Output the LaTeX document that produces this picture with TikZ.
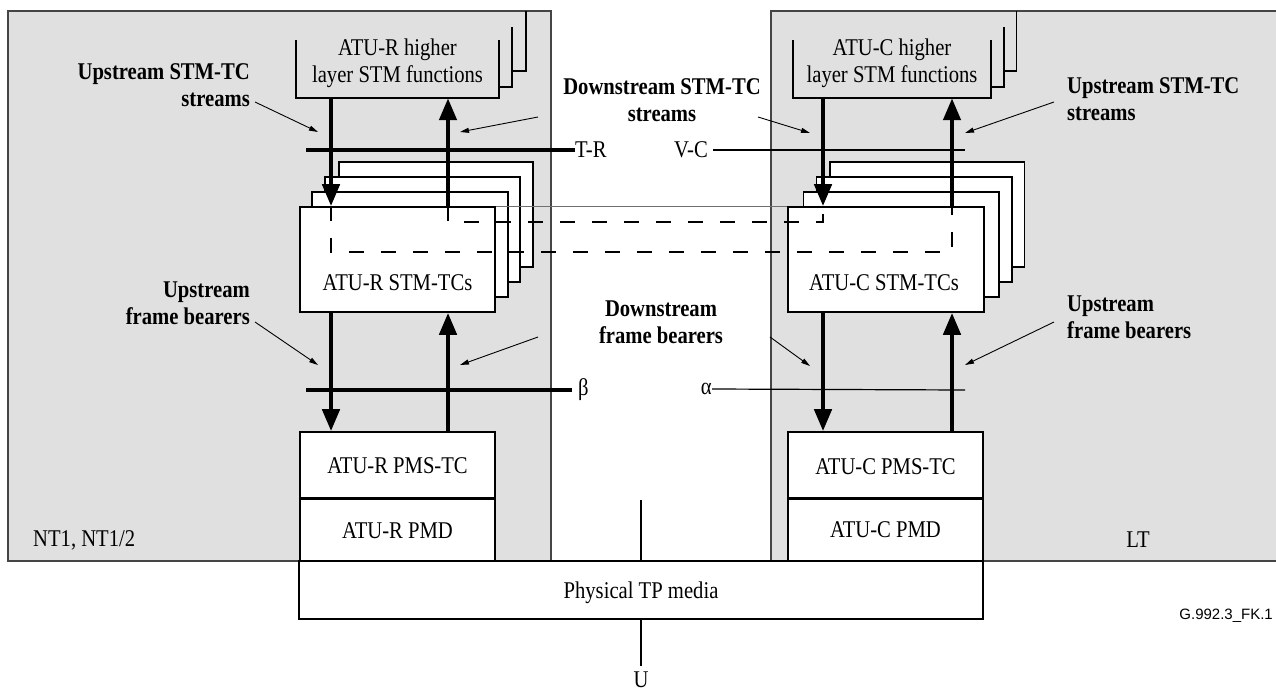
\documentclass[tikz,border=0pt]{standalone}
\usepackage{fontspec}
\setmainfont{Liberation Serif}[FakeStretch=0.86]
\newfontfamily\arialfont{Liberation Sans}
\usetikzlibrary{arrows.meta}
\definecolor{boxgray}{HTML}{E0E0E0}
\definecolor{edgegray}{HTML}{454545}
\definecolor{midgray}{HTML}{707070}
\tikzset{
  graybox/.style={fill=boxgray, draw=edgegray, line width=1.5pt},
  wbox/.style={draw=black, fill=white, line width=1.6pt, inner sep=0pt},
  hlbox/.style={draw=black, line width=2pt},
  bigarrow/.style={line width=4.5pt, -{Triangle[length=22pt,width=17pt]}},
  smallarrow/.style={line width=0.9pt, -{Triangle[length=9pt,width=5pt]}},
  thickline/.style={line width=4pt},
  thinline/.style={line width=1.2pt},
  dashline/.style={line width=1.2pt, dash pattern=on 15pt off 17pt},
  lbl/.style={font=\bfseries\fontsize{24}{27}\selectfont, inner sep=0pt},
  txt/.style={font=\fontsize{24}{27}\selectfont, inner sep=0pt},
}
\begin{document}
\begin{tikzpicture}[x=1pt,y=-1pt]
\useasboundingbox (0,0) rectangle (1276,693);
% outer gray equipment boxes
\node[graybox, minimum width=543pt, minimum height=550pt, inner sep=0pt] (nt) at (279.5,286) {};
\node[graybox, minimum width=520pt, minimum height=550pt, inner sep=0pt] (lt) at (1031,286) {};
\node[txt, anchor=west] (ntlbl) at (33,540) {NT1, NT1/2};
\node[txt] (ltlbl) at (1138,540) {LT};

% higher layer boxes
\node[minimum width=203pt, minimum height=58pt, inner sep=0pt] (hlR) at (397.5,69) {};
\draw[hlbox] (hlR.north west) -- (hlR.south west) -- (hlR.south east) -- (hlR.north east);
\draw[line width=1.2pt] (499,87) -- (512,87) -- (512,27);
\draw[line width=1.2pt] (512,71) -- (526,71) -- (526,11);
\node[txt, align=center] (hlRt) at (397.5,63.5) {ATU-R higher\\layer STM functions};

\node[minimum width=198pt, minimum height=58pt, inner sep=0pt] (hlC) at (892,69) {};
\draw[hlbox] (hlC.north west) -- (hlC.south west) -- (hlC.south east) -- (hlC.north east);
\draw[line width=1.2pt] (991,87) -- (1004,87) -- (1004,27);
\draw[line width=1.2pt] (1004,71) -- (1016.5,71) -- (1016.5,11);
\node[txt, align=center] (hlCt) at (892,63.5) {ATU-C higher\\layer STM functions};

% STM-TC stacks (left)
\draw[wbox] (339,162) rectangle (533,267);
\draw[wbox] (325,177) rectangle (520,282);
\draw[wbox] (312,192) rectangle (508,297);
\node[wbox, minimum width=195pt, minimum height=105pt] (stmR) at (397.5,259.5) {};
\node[txt] (stmRt) at (397.5,283) {ATU-R STM-TCs};
% STM-TC stacks (right)
\draw[wbox] (830,162) rectangle (1024.5,267);
\draw[wbox] (816.5,177) rectangle (1012,282);
\draw[wbox] (803.5,192) rectangle (999,297);
\node[wbox, minimum width=196pt, minimum height=105pt] (stmC) at (886,259.5) {};
\node[txt] (stmCt) at (884,283) {ATU-C STM-TCs};

% thin line joining the front boxes
\draw[midgray, line width=1pt] (stmR.north east) -- (stmC.north west);

% arrow x positions
\coordinate (xa) at (331,0);
\coordinate (xb) at (448,0);
\coordinate (xc) at (823,0);
\coordinate (xd) at (952,0);

% dashed cross connections
\draw[dashline] (stmR.north -| xa) -- (331,252) -- (952,252) -- (stmC.north -| xd);
\draw[dashline] (stmR.north -| xb) -- (448,222) -- (823,222) -- (stmC.north -| xc);

% PMS-TC / PMD boxes
\node[wbox, minimum width=195pt, minimum height=66pt] (pmsR) at (397.5,465) {};
\node[wbox, minimum width=195pt, minimum height=63pt, anchor=north] (pmdR) at (pmsR.south) {};
\node[txt] (pmsRt) at (397.5,466) {ATU-R PMS-TC};
\node[txt] (pmdRt) at (397.5,531) {ATU-R PMD};
\node[wbox, minimum width=195pt, minimum height=66pt] (pmsC) at (885.5,465) {};
\node[wbox, minimum width=195pt, minimum height=63pt, anchor=north] (pmdC) at (pmsC.south) {};
\node[txt] (pmsCt) at (885.5,467) {ATU-C PMS-TC};
\node[txt] (pmdCt) at (885.5,530) {ATU-C PMD};

% physical media
\node[wbox, minimum width=684pt, minimum height=58pt] (phy) at (641,590) {};
\node[txt] (phyt) at (641,593) {Physical TP media};

% big arrows
\draw[bigarrow] (hlR.south -| xa) -- (stmR.north -| xa);
\draw[bigarrow] (stmR.north -| xb) -- (hlR.south -| xb);
\draw[bigarrow] (hlC.south -| xc) -- (stmC.north -| xc);
\draw[bigarrow] (stmC.north -| xd) -- (hlC.south -| xd);
\draw[bigarrow] (stmR.south -| xa) -- (pmsR.north -| xa);
\draw[bigarrow] (pmsR.north -| xb) -- (stmR.south -| xb);
\draw[bigarrow] (stmC.south -| xc) -- (pmsC.north -| xc);
\draw[bigarrow] (pmsC.north -| xd) -- (stmC.south -| xd);

% reference points
\node[txt, anchor=west] (tr) at (575,150) {T-R};
\coordinate (trs) at (306,150);
\draw[thickline] (trs) -- (tr.west);
\node[txt, anchor=east] (vc) at (708,150) {V-C};
\coordinate (vce) at (965,150);
\draw[thinline] (vc.east) ++(5,0) -- (vce);
\node[txt, anchor=west] (beta) at (578,390) {β};
\coordinate (bs) at (306,390);
\draw[thickline] (bs) -- (572,390);
\node[txt, anchor=east] (alpha) at (712,389) {α};
\coordinate (ae) at (965,390);
\draw[thinline] (alpha.east) -- (ae);

% U reference
\coordinate (ut) at (641,500);
\draw[line width=1.2pt] (ut) -- (phy.north);
\node[txt, anchor=north] (u) at (641,672) {U};
\draw[line width=1.2pt, shorten >=6pt] (phy.south) -- (u.north);

% bold labels
\node[lbl, align=right, anchor=east] (l1) at (250,85) {Upstream STM-TC\\streams};
\node[lbl, align=center] (l2) at (662,100) {Downstream STM-TC\\streams};
\node[lbl, align=left, anchor=west] (l3) at (1067,99) {Upstream STM-TC\\streams};
\node[lbl, align=right, anchor=east] (l4) at (250,303) {Upstream\\frame bearers};
\node[lbl, align=center] (l5) at (661,322) {Downstream\\frame bearers};
\node[lbl, align=left, anchor=west] (l6) at (1067,317) {Upstream\\frame bearers};

% small pointer arrows
\coordinate (p1) at (255,102); \coordinate (q1) at (318,132);
\coordinate (p2) at (538,117); \coordinate (q2) at (460,132);
\coordinate (p3) at (758,117); \coordinate (q3) at (810,133);
\coordinate (p4) at (1054,102); \coordinate (q4) at (965,133);
\coordinate (p5) at (255,322); \coordinate (q5) at (318,365);
\coordinate (p6) at (538,337); \coordinate (q6) at (460,365);
\coordinate (p7) at (770,337); \coordinate (q7) at (810,366);
\coordinate (p8) at (1054,322); \coordinate (q8) at (965,365);
\foreach \i in {1,...,8} { \draw[smallarrow] (p\i) -- (q\i); }

\node[font=\arialfont\fontsize{15}{18}\selectfont, anchor=east, inner sep=0pt] (fig) at (1273,616) {G.992.3\_FK.1};
\end{tikzpicture}
\end{document}
